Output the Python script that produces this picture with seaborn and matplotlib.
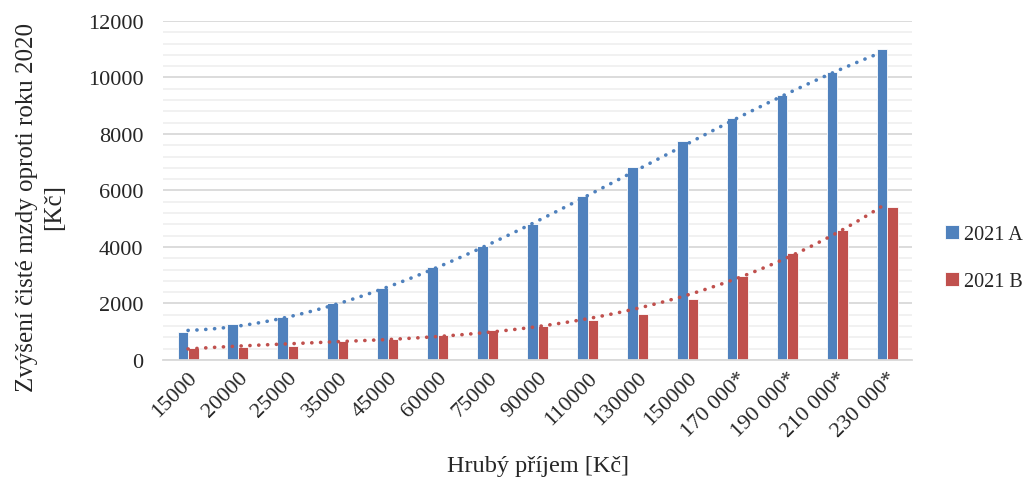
import numpy as np
import pandas as pd
import seaborn as sns
import matplotlib.pyplot as plt
from matplotlib.ticker import MultipleLocator

# data
prijem = ['15000', '20000', '25000', '35000', '45000', '60000', '75000', '90000',
          '110000', '130000', '150000', '170 000*', '190 000*', '210 000*', '230 000*']
var_a = [1000, 1255, 1515, 2025, 2560, 3290, 4040, 4820, 5815, 6845, 7735, 8550, 9370, 10195, 11010]
var_b = [415, 455, 500, 665, 735, 890, 1065, 1210, 1410, 1635, 2155, 2985, 3800, 4605, 5425]

blue = '#4F81BD'
red = '#C0504D'

df = pd.DataFrame({'prijem': prijem * 2,
                   'hodnota': var_a + var_b,
                   'serie': ['2021 A'] * len(prijem) + ['2021 B'] * len(prijem)})

sns.set_style('white')
plt.rcParams['font.family'] = ['Liberation Serif', 'DejaVu Serif']

fig, ax = plt.subplots(figsize=(10.32, 4.89), dpi=100)
fig.subplots_adjust(left=0.158, right=0.884, top=0.955, bottom=0.262)

sns.barplot(data=df, x='prijem', y='hodnota', hue='serie', palette=[blue, red],
            width=0.42, ax=ax, edgecolor='white', linewidth=0.6, saturation=1)

# polynomial trendlines like in Excel
xs = np.arange(len(prijem))
xx = np.linspace(0, len(prijem) - 1, 200)
for vals, col in [(var_a, blue), (var_b, red)]:
    coef = np.polyfit(xs, vals, 3)
    ax.plot(xx, np.polyval(coef, xx), color=col, lw=2.6,
            linestyle=(0, (0.05, 2.4)), dash_capstyle='round', zorder=3)

ax.set_ylim(0, 12000)
ax.set_xlim(-0.5, len(prijem) - 0.5)
ax.yaxis.set_major_locator(MultipleLocator(2000))
ax.yaxis.set_minor_locator(MultipleLocator(400))
ax.grid(axis='y', which='major', color='#d9d9d9', lw=1.3, zorder=0)
ax.grid(axis='y', which='minor', color='#f0f0f0', lw=1.3, zorder=0)
ax.set_axisbelow(True)
sns.despine(ax=ax, left=True)
ax.spines['bottom'].set_color('#d9d9d9')
ax.spines['bottom'].set_linewidth(1.3)
ax.tick_params(axis='both', which='both', length=0, labelsize=16)
ax.tick_params(axis='y', pad=14)
ax.tick_params(axis='x', pad=6)
plt.setp(ax.get_xticklabels(), rotation=45, ha='right', rotation_mode='anchor')

ax.set_xlabel('Hrubý příjem [Kč]', fontsize=17.5, labelpad=10)
ax.set_ylabel('Zvýšení čisté mzdy oproti roku 2020\n[Kč]', fontsize=18,
              linespacing=1.3)
ax.yaxis.set_label_coords(-0.131, 0.454)

ax.legend(loc='center left', bbox_to_anchor=(1.02, 0.30), frameon=False, fontsize=14.5,
          handlelength=0.7, handleheight=0.7, handletextpad=0.2, labelspacing=1.4,
          title=None)

fig.savefig('out.png', dpi=100)
